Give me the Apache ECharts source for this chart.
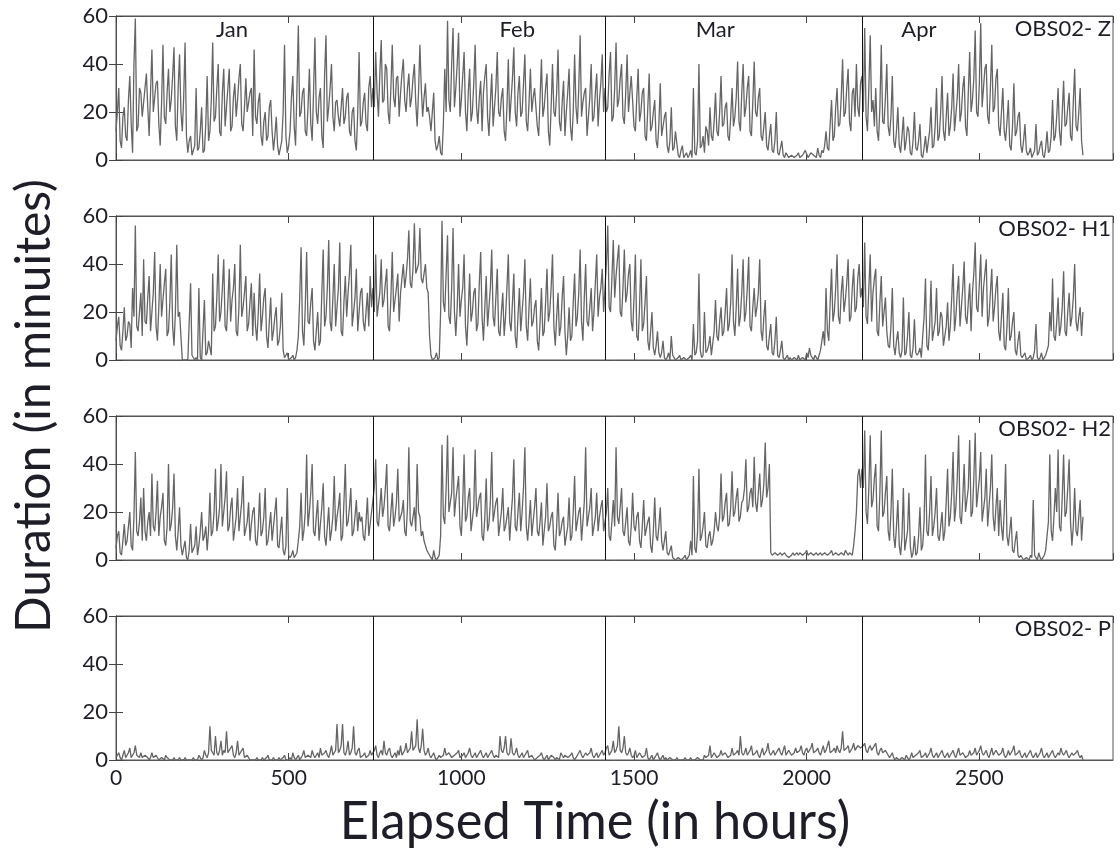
<!DOCTYPE html>
<html>
<head>
<meta charset="utf-8">
<script src="https://cdn.jsdelivr.net/npm/echarts@6/dist/echarts.min.js"></script>
<style>
  html, body { margin: 0; padding: 0; background: #fff; }
  #chart { width: 1120px; height: 853px; }
</style>
</head>
<body>
<div id="chart"></div>
<script>
// one value every 4 hours (one row = 80 h)
var STEP = 4;

var zJan = [12, 20, 30, 8, 5, 18, 22, 10, 8, 25, 35, 15, 3, 40, 59, 12, 14, 30, 28, 18,
    18, 30, 36, 22, 10, 28, 46, 20, 20, 32, 33, 15, 6, 24, 48, 18, 15, 28, 38, 20,
    25, 35, 47, 14, 8, 30, 44, 20, 12, 26, 49, 10, 3, 8, 10, 2, 2, 6, 30, 4,
    5, 12, 22, 3, 4, 15, 35, 8, 12, 25, 49, 16, 18, 30, 40, 12, 10, 28, 38, 14,
    22, 30, 38, 12, 14, 26, 32, 18, 25, 34, 40, 15, 12, 22, 34, 20, 20, 28, 30, 10,
    46, 18, 15, 24, 28, 10, 6, 16, 20, 8, 10, 22, 25, 12, 4, 10, 18, 6, 2, 5,
    8, 20, 48, 10, 3, 6, 12, 26, 35, 14, 6, 30, 56, 18, 20, 28, 30, 12, 10, 22,
    38, 15, 8, 28, 51, 20, 15, 26, 30, 10, 5, 35, 52, 16, 22, 30, 40, 18, 12, 24,
    25, 18, 14, 22, 30, 15, 18, 26, 28, 12, 10, 20, 22, 8, 4, 20, 45, 14, 16, 24,
    28, 15, 12, 30, 35, 22];
var zFeb = [30, 22, 45, 28, 18, 36, 50, 24, 25, 40, 38, 20, 15, 30, 48, 26, 22, 34, 35, 18,
    28, 36, 42, 25, 20, 30, 36, 22, 26, 34, 40, 24, 14, 28, 48, 30, 18, 26, 32, 20,
    22, 18, 12, 20, 28, 8, 4, 6, 10, 3, 2, 15, 38, 20, 58, 25, 20, 40, 55, 22,
    30, 40, 53, 18, 25, 35, 45, 20, 12, 28, 38, 16, 20, 32, 48, 22, 15, 26, 33, 12,
    28, 35, 40, 18, 10, 24, 36, 14, 22, 30, 45, 20, 18, 26, 30, 12, 8, 22, 42, 16,
    25, 34, 47, 20, 14, 28, 35, 18, 20, 32, 44, 16, 12, 24, 38, 20, 26, 30, 30, 14,
    10, 26, 42, 18, 22, 30, 36, 12, 6, 22, 40, 20, 18, 28, 46, 16, 12, 24, 33, 10,
    20, 28, 38, 14, 8, 20, 44, 22, 15, 30, 52, 18, 24, 28, 30, 10, 10, 26, 40, 16,
    18, 28, 36, 14, 25, 32, 44, 20];
var zMar = [30, 20, 22, 36, 45, 16, 18, 30, 49, 22, 25, 34, 40, 18, 15, 28, 44, 20, 28, 35,
    35, 14, 12, 26, 38, 16, 20, 28, 30, 10, 8, 22, 36, 12, 14, 20, 25, 8, 5, 15,
    32, 10, 10, 18, 20, 6, 3, 8, 22, 4, 5, 12, 12, 2, 1, 4, 6, 1, 2, 3,
    1, 2, 4, 1, 30, 3, 2, 8, 40, 5, 6, 10, 3, 14, 12, 6, 22, 10, 8, 16,
    28, 12, 10, 20, 35, 14, 15, 22, 24, 10, 8, 18, 30, 14, 18, 26, 41, 16, 12, 28,
    40, 18, 22, 30, 35, 12, 10, 24, 41, 20, 18, 26, 30, 10, 8, 14, 20, 6, 4, 10,
    15, 4, 3, 8, 20, 3, 2, 5, 8, 2, 1, 3, 3, 1, 1, 2, 2, 1, 1, 2,
    3, 1, 1, 2, 2, 4, 4, 1, 1, 3, 3, 2, 2, 1, 5, 2, 1, 4, 3, 6,
    12, 5, 4, 15, 25, 8, 10, 22, 30, 14, 15, 26, 42, 18, 20, 30, 38, 16, 12, 28,
    30, 18, 40, 22, 18, 32];
var zApr = [35, 20, 55, 18, 12, 30, 52, 20, 25, 14, 30, 12, 8, 22, 48, 16, 15, 26, 40, 14,
    10, 18, 35, 8, 5, 12, 22, 6, 3, 10, 18, 4, 8, 14, 12, 3, 2, 8, 20, 5,
    4, 8, 15, 2, 1, 5, 10, 3, 3, 12, 22, 5, 6, 14, 30, 8, 10, 20, 35, 12,
    8, 18, 28, 10, 14, 22, 36, 12, 12, 26, 40, 16, 20, 30, 35, 14, 10, 28, 45, 20,
    25, 34, 54, 20, 18, 32, 57, 22, 30, 38, 40, 18, 15, 30, 48, 20, 22, 34, 38, 14,
    10, 20, 30, 12, 8, 16, 25, 6, 4, 14, 32, 10, 12, 18, 20, 6, 3, 8, 15, 4,
    2, 3, 5, 1, 1, 4, 15, 2, 3, 6, 8, 2, 1, 5, 12, 3, 4, 10, 25, 8,
    10, 18, 30, 12, 6, 20, 33, 14, 15, 22, 28, 10, 8, 24, 38, 14, 12, 20, 30, 8,
    2];

var h1Jan = [8, 14, 18, 6, 4, 12, 22, 8, 10, 16, 15, 5, 30, 18, 56, 14, 12, 20, 28, 10,
    42, 16, 15, 26, 35, 12, 20, 28, 45, 14, 8, 22, 40, 18, 25, 32, 38, 10, 12, 24,
    44, 14, 6, 20, 48, 18, 20, 10, 0, 0, 0, 0, 0, 0, 32, 2, 2, 0, 1, 0,
    30, 1, 0, 0, 25, 2, 3, 8, 8, 2, 36, 12, 14, 26, 44, 16, 20, 30, 42, 14,
    12, 24, 38, 16, 25, 30, 40, 12, 10, 22, 48, 18, 22, 28, 35, 12, 15, 24, 32, 10,
    28, 14, 8, 20, 36, 12, 18, 26, 30, 10, 5, 16, 26, 8, 12, 18, 22, 6, 8, 14,
    28, 4, 1, 2, 3, 0, 0, 1, 2, 0, 1, 4, 10, 26, 47, 12, 6, 22, 45, 16,
    15, 24, 30, 8, 4, 12, 20, 6, 8, 28, 46, 14, 18, 30, 50, 16, 12, 26, 40, 14,
    22, 30, 49, 12, 10, 24, 35, 18, 28, 36, 48, 14, 14, 26, 38, 12, 20, 28, 30, 16,
    12, 20, 28, 14, 35, 22];
var h1Feb = [30, 20, 44, 18, 18, 28, 42, 22, 25, 32, 38, 14, 12, 26, 45, 20, 20, 30, 36, 16,
    28, 34, 40, 30, 35, 42, 54, 32, 30, 38, 57, 36, 38, 40, 55, 34, 32, 36, 40, 30,
    28, 10, 2, 0, 0, 1, 3, 0, 1, 20, 58, 24, 20, 36, 52, 18, 15, 30, 55, 20,
    10, 22, 40, 18, 25, 30, 44, 14, 6, 20, 36, 16, 20, 28, 30, 12, 15, 32, 45, 18,
    8, 22, 35, 14, 22, 30, 46, 18, 14, 26, 38, 12, 10, 20, 28, 10, 18, 30, 44, 16,
    12, 24, 36, 10, 5, 18, 30, 12, 20, 28, 42, 14, 8, 22, 34, 14, 16, 22, 25, 8,
    4, 16, 30, 10, 12, 24, 38, 16, 20, 30, 44, 14, 6, 18, 28, 10, 14, 26, 35, 12,
    2, 10, 22, 8, 10, 24, 36, 14, 18, 28, 46, 16, 8, 26, 40, 16, 14, 22, 30, 12,
    20, 32, 44, 18, 26, 30, 38, 20];
var h1Mar = [30, 40, 56, 22, 20, 34, 50, 26, 35, 42, 48, 20, 18, 30, 46, 24, 28, 36, 40, 16,
    12, 26, 44, 10, 8, 22, 42, 12, 15, 24, 35, 8, 4, 12, 20, 5, 2, 6, 12, 3,
    1, 3, 8, 1, 0, 1, 3, 0, 10, 2, 1, 0, 0, 1, 2, 0, 0, 1, 1, 0,
    0, 1, 2, 0, 15, 2, 3, 8, 36, 4, 1, 2, 20, 3, 4, 6, 10, 2, 2, 12,
    25, 10, 8, 16, 22, 10, 12, 20, 30, 12, 15, 24, 44, 16, 10, 22, 38, 14, 18, 28,
    42, 16, 20, 30, 43, 14, 12, 22, 30, 18, 22, 28, 42, 12, 8, 18, 25, 6, 4, 10,
    15, 3, 2, 8, 18, 2, 1, 4, 8, 1, 0, 1, 2, 0, 1, 0, 0, 1, 1, 0,
    2, 0, 0, 1, 1, 0, 3, 1, 5, 2, 1, 0, 2, 1, 0, 2, 4, 8, 12, 6,
    30, 12, 8, 24, 38, 16, 20, 30, 44, 18, 15, 28, 35, 20, 25, 32, 42, 16, 18, 30,
    38, 20, 22, 34, 40, 26];
var h1Apr = [30, 22, 49, 18, 15, 30, 44, 16, 28, 34, 38, 12, 10, 24, 35, 14, 20, 26, 12, 6,
    5, 14, 30, 6, 2, 8, 12, 3, 1, 4, 26, 2, 3, 10, 20, 2, 1, 5, 17, 3,
    2, 3, 5, 1, 10, 18, 34, 6, 4, 14, 33, 8, 8, 16, 30, 10, 12, 20, 18, 6,
    6, 14, 24, 8, 14, 26, 40, 12, 18, 28, 35, 14, 22, 30, 41, 18, 15, 24, 32, 12,
    28, 36, 49, 22, 20, 32, 44, 18, 30, 36, 42, 14, 18, 28, 38, 16, 22, 30, 35, 12,
    8, 18, 28, 6, 4, 14, 30, 8, 10, 16, 20, 4, 2, 8, 12, 2, 1, 2, 3, 0,
    0, 1, 2, 0, 1, 4, 15, 1, 0, 1, 3, 0, 1, 2, 2, 6, 20, 12, 34, 10,
    8, 16, 26, 10, 14, 22, 37, 12, 10, 20, 28, 14, 18, 26, 40, 16, 12, 18, 22, 10,
    20];

var h2Jan = [5, 10, 12, 3, 2, 8, 15, 6, 8, 14, 20, 6, 4, 18, 45, 12, 10, 16, 26, 8,
    30, 12, 8, 16, 20, 10, 36, 14, 12, 20, 33, 10, 18, 22, 28, 8, 6, 14, 40, 12,
    15, 22, 36, 10, 4, 12, 22, 6, 2, 5, 8, 1, 0, 4, 15, 3, 3, 6, 14, 2,
    6, 12, 20, 8, 10, 14, 4, 12, 28, 10, 12, 20, 38, 12, 16, 22, 40, 14, 20, 26,
    37, 12, 14, 22, 26, 8, 8, 18, 30, 12, 18, 24, 35, 10, 10, 16, 24, 8, 15, 20,
    22, 8, 6, 14, 28, 10, 12, 18, 30, 6, 8, 14, 20, 8, 14, 20, 26, 6, 5, 12,
    18, 4, 2, 6, 30, 2, 1, 2, 4, 1, 2, 3, 8, 14, 28, 8, 12, 20, 44, 14,
    20, 28, 40, 12, 10, 18, 25, 8, 15, 22, 32, 10, 6, 14, 22, 8, 12, 18, 35, 12,
    18, 22, 28, 8, 10, 24, 40, 14, 16, 22, 30, 10, 12, 18, 25, 12, 20, 16, 18, 10,
    8, 16, 26, 10, 15, 20];
var h2Feb = [20, 30, 42, 16, 14, 22, 30, 18, 22, 30, 40, 14, 12, 20, 28, 14, 18, 24, 38, 16,
    16, 20, 25, 12, 10, 22, 47, 16, 14, 18, 22, 12, 40, 20, 18, 10, 12, 8, 8, 4,
    3, 2, 1, 0, 4, 1, 0, 1, 2, 10, 48, 18, 15, 30, 52, 20, 20, 28, 47, 18,
    25, 30, 35, 14, 10, 24, 44, 16, 18, 26, 30, 12, 12, 22, 46, 18, 22, 26, 28, 10,
    8, 18, 34, 12, 15, 24, 45, 16, 20, 24, 26, 10, 10, 20, 30, 12, 14, 18, 22, 8,
    18, 26, 42, 14, 12, 20, 28, 12, 20, 30, 47, 14, 8, 16, 25, 10, 16, 22, 30, 12,
    10, 16, 24, 6, 6, 18, 32, 12, 14, 18, 20, 6, 4, 14, 28, 10, 12, 16, 18, 6,
    6, 14, 26, 8, 10, 20, 35, 12, 16, 20, 22, 8, 8, 24, 47, 14, 14, 22, 30, 10,
    10, 18, 28, 12, 18, 22, 25, 12];
var h2Mar = [12, 20, 30, 10, 8, 16, 25, 14, 47, 18, 15, 22, 30, 12, 10, 16, 22, 8, 6, 14,
    28, 14, 12, 18, 20, 8, 5, 14, 25, 10, 10, 16, 18, 6, 3, 12, 26, 10, 8, 14,
    22, 8, 4, 8, 12, 3, 2, 4, 6, 1, 1, 0, 0, 1, 1, 0, 0, 1, 2, 0,
    1, 2, 8, 2, 35, 5, 3, 12, 38, 8, 10, 14, 20, 6, 5, 10, 12, 6, 8, 12,
    20, 14, 12, 18, 36, 16, 18, 24, 28, 14, 15, 22, 37, 18, 20, 26, 30, 16, 18, 24,
    25, 30, 42, 20, 22, 28, 30, 22, 43, 24, 20, 28, 36, 22, 25, 32, 49, 26, 30, 40,
    3, 2, 2, 3, 3, 2, 2, 3, 2, 2, 3, 2, 2, 1, 1, 2, 3, 2, 2, 3,
    2, 3, 3, 2, 2, 3, 4, 2, 2, 3, 3, 2, 2, 3, 2, 2, 3, 2, 2, 3,
    3, 2, 2, 3, 4, 2, 2, 3, 3, 2, 2, 3, 3, 2, 4, 3, 2, 3, 3, 2,
    6, 12, 20, 35, 38, 30];
var h2Apr = [38, 30, 54, 20, 15, 30, 52, 22, 25, 34, 40, 14, 12, 28, 54, 18, 20, 28, 35, 12,
    8, 20, 38, 10, 5, 14, 25, 6, 2, 10, 30, 4, 4, 12, 28, 6, 1, 3, 10, 2,
    3, 10, 22, 4, 6, 16, 44, 12, 10, 20, 35, 10, 14, 20, 30, 10, 8, 14, 20, 8,
    12, 24, 38, 14, 18, 28, 45, 16, 22, 34, 52, 18, 15, 26, 40, 20, 25, 30, 50, 18,
    20, 34, 53, 22, 28, 34, 45, 16, 16, 26, 38, 14, 22, 30, 44, 18, 12, 22, 30, 10,
    25, 14, 8, 20, 40, 10, 6, 12, 18, 4, 3, 8, 12, 2, 1, 2, 2, 0, 0, 1,
    1, 0, 2, 1, 25, 2, 1, 0, 3, 1, 0, 1, 2, 4, 10, 16, 44, 12, 8, 18,
    30, 20, 46, 14, 12, 26, 44, 18, 20, 30, 42, 16, 6, 14, 30, 12, 10, 18, 25, 8,
    18];

var pJan = [1, 2, 3, 1, 0, 2, 4, 1, 2, 3, 5, 1, 1, 3, 6, 2, 2, 1, 3, 1,
    1, 2, 2, 1, 0, 1, 3, 1, 1, 2, 2, 0, 0, 1, 1, 0, 2, 1, 1, 0,
    0, 0, 1, 0, 0, 0, 1, 0, 0, 0, 1, 0, 0, 0, 0, 0, 1, 0, 0, 0,
    2, 1, 0, 1, 4, 2, 1, 3, 14, 4, 3, 2, 10, 3, 2, 4, 8, 2, 4, 3,
    12, 3, 3, 5, 6, 2, 1, 3, 8, 2, 2, 4, 5, 1, 1, 2, 2, 0, 0, 0,
    0, 0, 1, 0, 0, 0, 1, 0, 0, 1, 2, 0, 0, 0, 1, 0, 0, 0, 1, 0,
    0, 1, 2, 0, 0, 0, 1, 0, 3, 1, 0, 1, 2, 0, 1, 2, 4, 1, 1, 2,
    2, 1, 4, 2, 1, 2, 3, 1, 5, 2, 2, 3, 4, 2, 1, 3, 6, 2, 3, 4,
    15, 3, 4, 6, 15, 3, 2, 4, 8, 2, 3, 5, 14, 3, 2, 4, 5, 1, 1, 2,
    3, 1, 1, 2, 4, 2];
var pFeb = [2, 4, 6, 2, 1, 3, 4, 2, 8, 3, 2, 4, 5, 2, 1, 2, 3, 1, 4, 2,
    6, 2, 2, 4, 7, 3, 3, 5, 12, 4, 4, 6, 17, 5, 3, 6, 13, 4, 2, 3,
    5, 2, 1, 2, 3, 1, 0, 1, 2, 1, 1, 2, 5, 2, 2, 3, 3, 1, 1, 2,
    2, 3, 4, 1, 1, 2, 3, 1, 2, 3, 5, 2, 1, 2, 3, 1, 2, 3, 4, 2,
    1, 2, 3, 1, 2, 3, 4, 2, 1, 2, 2, 1, 10, 4, 3, 5, 10, 3, 2, 3,
    9, 3, 2, 3, 5, 2, 1, 2, 3, 1, 2, 3, 4, 1, 1, 2, 2, 0, 0, 1,
    1, 2, 3, 1, 0, 1, 2, 0, 1, 2, 2, 1, 0, 1, 1, 0, 3, 2, 1, 2,
    2, 1, 1, 2, 3, 1, 0, 1, 2, 3, 4, 2, 1, 2, 3, 2, 2, 3, 5, 2,
    1, 2, 3, 1, 2, 3, 4, 2];
var pMar = [3, 5, 6, 2, 2, 4, 8, 3, 4, 6, 14, 4, 3, 5, 10, 3, 2, 3, 5, 2,
    1, 2, 4, 1, 2, 3, 3, 1, 1, 2, 5, 1, 0, 1, 2, 0, 1, 2, 3, 1,
    0, 1, 2, 0, 1, 0, 0, 1, 1, 0, 0, 0, 1, 0, 0, 0, 0, 0, 1, 0,
    0, 0, 1, 0, 0, 0, 0, 1, 1, 0, 0, 0, 2, 1, 1, 2, 6, 1, 2, 3,
    3, 1, 1, 2, 4, 2, 2, 3, 3, 1, 1, 2, 5, 2, 2, 3, 4, 2, 10, 3,
    2, 3, 5, 2, 3, 4, 6, 2, 2, 3, 4, 2, 1, 3, 5, 2, 3, 4, 7, 3,
    2, 3, 4, 2, 3, 4, 5, 3, 2, 4, 6, 2, 3, 4, 4, 2, 2, 3, 5, 3,
    3, 4, 6, 3, 2, 4, 5, 3, 4, 5, 7, 3, 3, 4, 5, 3, 2, 4, 6, 3,
    4, 6, 8, 3, 3, 4, 5, 3, 6, 4, 3, 5, 12, 4, 4, 5, 6, 3, 3, 5,
    7, 4, 4, 6, 6, 5];
var pApr = [5, 6, 7, 4, 3, 5, 6, 4, 4, 6, 7, 3, 2, 4, 5, 3, 3, 4, 4, 2,
    1, 2, 3, 1, 0, 1, 1, 0, 0, 1, 1, 0, 2, 1, 0, 1, 3, 1, 1, 2,
    2, 3, 4, 1, 1, 2, 3, 1, 2, 3, 5, 2, 1, 2, 3, 1, 2, 3, 4, 2,
    1, 2, 3, 1, 2, 3, 4, 2, 1, 3, 5, 2, 2, 3, 3, 1, 1, 2, 4, 2,
    2, 3, 5, 2, 3, 4, 6, 3, 2, 3, 4, 2, 1, 3, 5, 2, 3, 4, 4, 2,
    2, 3, 5, 2, 1, 2, 4, 2, 3, 4, 6, 2, 2, 3, 4, 2, 1, 2, 3, 1,
    2, 3, 4, 2, 1, 2, 3, 1, 2, 3, 5, 2, 1, 2, 3, 1, 2, 3, 4, 2,
    1, 2, 3, 2, 5, 3, 2, 3, 4, 2, 1, 2, 3, 2, 2, 3, 4, 2, 1, 2,
    0];

var panelNames = ['OBS02- Z', 'OBS02- H1', 'OBS02- H2', 'OBS02- P'];
var monthNames = ['Jan', 'Feb', 'Mar', 'Apr'];
var monthLabelHours = [336, 1162, 1735, 2325];
var monthBounds = [744, 1416, 2160];
var yTicks = [0, 20, 40, 60];

var panels = [
    zJan.concat(zFeb, zMar, zApr),
    h1Jan.concat(h1Feb, h1Mar, h1Apr),
    h2Jan.concat(h2Feb, h2Mar, h2Apr),
    pJan.concat(pFeb, pMar, pApr)
];

var FONT = 'Lato';
var TXT = '#1e1e28';
var panelTops = [16, 216, 416, 616];
var PANEL_H = 144;

var myChart = echarts.init(document.getElementById('chart'));

var grids = [], xAxes = [], yAxes = [], series = [], graphics = [];

panelTops.forEach(function (top, i) {
    grids.push({left: 116, right: 7, top: top, height: PANEL_H,
        show: true, borderColor: '#555', borderWidth: 1, backgroundColor: '#fff'});

    var xBase = {
        gridIndex: i, type: 'value', min: 0, max: 2887, interval: 500,
        axisLine: {show: true, onZero: false, lineStyle: {color: '#555', width: 1}},
        axisTick: {show: true, inside: true, length: 7, lineStyle: {color: '#444'}},
        splitLine: {show: false}
    };
    xAxes.push(Object.assign({}, xBase, {
        position: 'bottom',
        axisLabel: {show: i === 3, showMaxLabel: false, margin: 8,
            fontFamily: FONT, fontSize: 21, color: TXT,
            formatter: function (v) { return String(v); }}
    }));
    xAxes.push(Object.assign({}, xBase, {position: 'top', axisLabel: {show: false}}));

    var yBase = {
        gridIndex: i, type: 'value', min: yTicks[0], max: yTicks[yTicks.length - 1], interval: 20,
        axisLine: {show: true, lineStyle: {color: '#555', width: 1}},
        axisTick: {show: true, inside: true, length: 7, lineStyle: {color: '#444'}},
        splitLine: {show: false}
    };
    yAxes.push(Object.assign({}, yBase, {
        position: 'left',
        axisLabel: {margin: 8, fontFamily: FONT, fontSize: 22, color: TXT}
    }));
    yAxes.push(Object.assign({}, yBase, {position: 'right', axisLabel: {show: false}}));

    var s = {
        type: 'line',
        xAxisIndex: 2 * i,
        yAxisIndex: 2 * i,
        showSymbol: false,
        symbol: 'none',
        animation: false,
        lineStyle: {color: '#656565', width: 1.3},
        data: panels[i].map(function (v, k) { return [k * STEP, v]; }),
        markLine: {
            silent: true, symbol: 'none', animation: false,
            label: {show: false},
            lineStyle: {color: '#111', width: 1, type: 'solid'},
            data: monthBounds.map(function (h) { return {xAxis: h}; })
        }
    };
    if (i === 0) {
        s.markPoint = {
            silent: true, animation: false,
            symbol: 'circle', symbolSize: 1,
            itemStyle: {color: 'rgba(0,0,0,0)'},
            label: {show: true, position: 'inside', formatter: '{b}',
                fontFamily: FONT, fontSize: 22, color: TXT},
            data: monthNames.map(function (n, k) {
                return {name: n, coord: [monthLabelHours[k], 54.2]};
            })
        };
    }
    series.push(s);

    graphics.push({
        type: 'text', x: 1111, y: top + 13, z: 100,
        style: {text: panelNames[i], fill: TXT, font: '22px ' + FONT,
            textAlign: 'right', textVerticalAlign: 'middle'}
    });
});

graphics.push({
    type: 'text', x: 35, y: 406, rotation: Math.PI / 2,
    style: {text: 'Duration (in minuites)', fill: TXT, font: '48px ' + FONT,
        textAlign: 'center', textVerticalAlign: 'middle'}
});
graphics.push({
    type: 'text', x: 595, y: 822, scaleX: 0.97,
    style: {text: 'Elapsed Time (in hours)', fill: TXT, font: '52px ' + FONT,
        textAlign: 'center', textVerticalAlign: 'middle'}
});

myChart.setOption({
    animation: false,
    grid: grids,
    xAxis: xAxes,
    yAxis: yAxes,
    series: series,
    graphic: graphics
});
</script>
</body>
</html>
